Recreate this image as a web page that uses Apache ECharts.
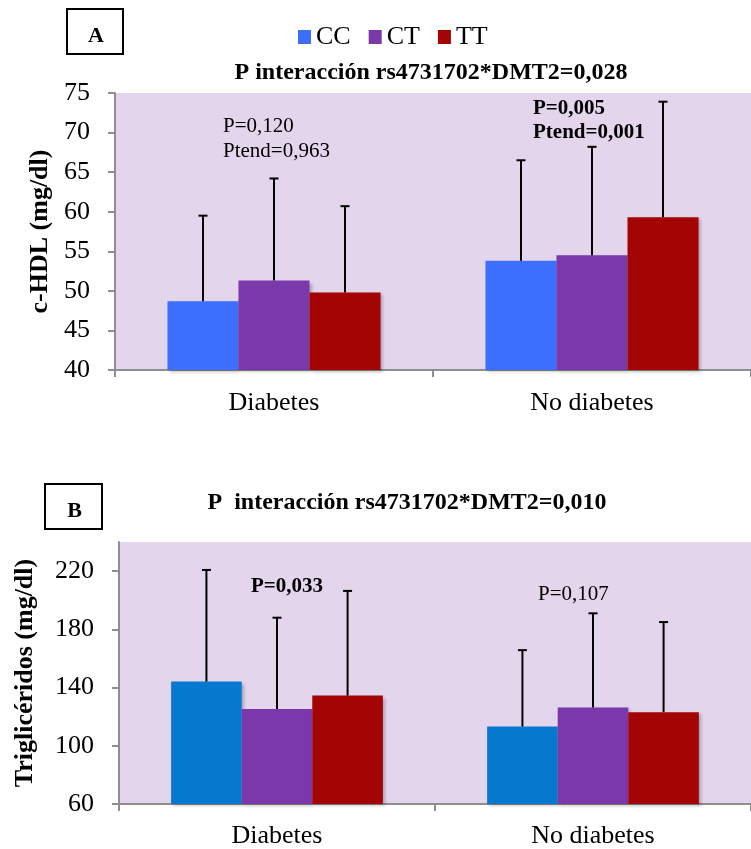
<!DOCTYPE html>
<html>
<head>
<meta charset="utf-8">
<script src="https://cdn.jsdelivr.net/npm/echarts@6/dist/echarts.min.js"></script>
<style>
html,body{margin:0;padding:0;background:#fff;overflow:hidden;}
#c{width:751px;height:849px;}
</style>
</head>
<body>
<div id="c"></div>
<script>
// ---- data ----
const categories = ['Diabetes', 'No diabetes'];
const genotypes = ['CC', 'CT', 'TT'];

// Panel A: c-HDL (mg/dl), means and SD (upper error bar)
const hdlCC = [48.7, 53.8];
const hdlCT = [51.3, 54.5];
const hdlTT = [49.8, 59.3];
const hdlCCsd = [10.8, 12.7];
const hdlCTsd = [12.9, 13.7];
const hdlTTsd = [10.9, 14.6];
const hdlTicks = [40, 45, 50, 55, 60, 65, 70, 75];

// Panel B: Triglicéridos (mg/dl)
const tgCC = [144.1, 113.2];
const tgCT = [125.2, 126.3];
const tgTT = [134.5, 123.1];
const tgCCsd = [76.7, 52.5];
const tgCTsd = [62.8, 64.7];
const tgTTsd = [71.9, 61.9];
const tgTicks = [60, 100, 140, 180, 220];
const tgMax = 240;

// ---- styles ----
const FONT = '"Liberation Serif", "Times New Roman", serif';
const colorsA = ['#3D6FFF', '#7A38AB', '#A30404'];
const colorsB = ['#0679CE', '#7A38AB', '#A30404'];
const GAP = 0.33;
const axisGray = '#8E8E8E';

function errData(means, sds) {
  const out = [];
  means.forEach((m, g) => {
    m.forEach((v, c) => out.push([c, g, v, v + sds[g][c]]));
  });
  return out;
}

function errSeries(xi, means, sds) {
  return {
    type: 'custom',
    xAxisIndex: xi, yAxisIndex: xi,
    z: 10,
    silent: true,
    data: errData(means, sds),
    encode: { x: 0, y: [2, 3] },
    renderItem: function (params, api) {
      const c = api.value(0), g = api.value(1);
      const p0 = api.coord([c, api.value(2)]);
      const p1 = api.coord([c, api.value(3)]);
      const band = api.size([1, 0])[0];
      const bw = band * (1 - GAP) / 3;
      const x = p0[0] + (g - 1) * bw;
      const style = { stroke: '#000', lineWidth: 2 };
      return {
        type: 'group',
        children: [
          { type: 'line', shape: { x1: x, y1: p0[1], x2: x, y2: p1[1] }, style: style },
          { type: 'line', shape: { x1: x - 4.5, y1: p1[1], x2: x + 4.5, y2: p1[1] }, style: style }
        ]
      };
    }
  };
}

function barSeries(xi, name, data, color) {
  return {
    type: 'bar', name: name, xAxisIndex: xi, yAxisIndex: xi,
    data: data, barGap: '0%', barCategoryGap: (GAP * 100) + '%',
    itemStyle: { color: color, shadowColor: 'rgba(0,0,0,0.25)', shadowBlur: 3, shadowOffsetX: 2, shadowOffsetY: 2 },
    emphasis: { disabled: true }
  };
}

const xAxisCommon = {
  type: 'category', data: categories,
  axisLine: { lineStyle: { color: axisGray, width: 2 } },
  axisTick: { show: true, alignWithLabel: false, length: 7, lineStyle: { color: axisGray, width: 2 } },
  axisLabel: { color: '#000', fontFamily: FONT, fontSize: 26, margin: 20 }
};

const yAxisCommon = {
  type: 'value',
  splitLine: { show: false },
  axisLine: { show: true, lineStyle: { color: axisGray, width: 2 } },
  axisTick: { show: true, length: 7, lineStyle: { color: axisGray, width: 2 } },
  axisLabel: { color: '#000', fontFamily: FONT, fontSize: 26, margin: 25 },
  nameLocation: 'middle', nameRotate: 90,
  nameTextStyle: { color: '#000', fontFamily: FONT, fontSize: 26, fontWeight: 'bold' }
};

function txt(x, y, s, bold, size, align) {
  return {
    type: 'text', x: x, y: y,
    style: { text: s, fill: '#000', font: (bold ? 'bold ' : '') + size + 'px ' + FONT,
      textAlign: align || 'left', textVerticalAlign: 'middle' }
  };
}

const option = {
  backgroundColor: '#fff',
  animation: false,
  legend: {
    data: genotypes,
    left: 298, top: 24, padding: 0,
    icon: 'rect', itemWidth: 13, itemHeight: 14, itemGap: 18,
    textStyle: { color: '#000', fontFamily: FONT, fontSize: 26 },
    selectedMode: false
  },
  grid: [
    { left: 115, top: 93, width: 645, height: 277, show: true, backgroundColor: '#E3D5EC', borderWidth: 0 },
    { left: 119, top: 542, width: 639, height: 262.5, show: true, backgroundColor: '#E3D5EC', borderWidth: 0 }
  ],
  xAxis: [
    Object.assign({}, xAxisCommon, { gridIndex: 0 }),
    Object.assign({}, xAxisCommon, { gridIndex: 1, axisLabel: Object.assign({}, xAxisCommon.axisLabel, { margin: 19 }) })
  ],
  yAxis: [
    Object.assign({}, yAxisCommon, {
      gridIndex: 0, min: hdlTicks[0], max: hdlTicks[hdlTicks.length - 1],
      interval: hdlTicks[1] - hdlTicks[0],
      name: 'c-HDL (mg/dl)', nameGap: 54
    }),
    Object.assign({}, yAxisCommon, {
      gridIndex: 1, min: tgTicks[0], max: tgMax,
      interval: tgTicks[1] - tgTicks[0],
      name: 'Triglicéridos (mg/dl)', nameGap: 81,
      axisLabel: Object.assign({}, yAxisCommon.axisLabel, { customValues: tgTicks }),
      axisTick: Object.assign({}, yAxisCommon.axisTick, { customValues: tgTicks })
    })
  ],
  series: [
    barSeries(0, 'CC', hdlCC, colorsA[0]),
    barSeries(0, 'CT', hdlCT, colorsA[1]),
    barSeries(0, 'TT', hdlTT, colorsA[2]),
    errSeries(0, [hdlCC, hdlCT, hdlTT], [hdlCCsd, hdlCTsd, hdlTTsd]),
    barSeries(1, 'CC', tgCC, colorsB[0]),
    barSeries(1, 'CT', tgCT, colorsB[1]),
    barSeries(1, 'TT', tgTT, colorsB[2]),
    errSeries(1, [tgCC, tgCT, tgTT], [tgCCsd, tgCTsd, tgTTsd])
  ],
  graphic: [
    { type: 'rect', shape: { x: 67, y: 9, width: 56, height: 45 }, style: { fill: '#fff', stroke: '#000', lineWidth: 2 } },
    txt(96, 36, 'A', true, 22, 'center'),
    { type: 'rect', shape: { x: 45, y: 484, width: 57, height: 45 }, style: { fill: '#fff', stroke: '#000', lineWidth: 2 } },
    txt(74.5, 511, 'B', true, 22, 'center'),
    txt(431, 73, 'P interacción rs4731702*DMT2=0,028', true, 24, 'center'),
    txt(407, 503, 'P  interacción rs4731702*DMT2=0,010', true, 24, 'center'),
    txt(223, 126, 'P=0,120', false, 21),
    txt(223, 151, 'Ptend=0,963', false, 21),
    txt(533, 109, 'P=0,005', true, 21),
    txt(533, 133, 'Ptend=0,001', true, 21),
    txt(251, 587, 'P=0,033', true, 21),
    txt(538, 594, 'P=0,107', false, 21)
  ]
};

const chart = echarts.init(document.getElementById('c'), null, { renderer: 'canvas' });
chart.setOption(option);
</script>
</body>
</html>
